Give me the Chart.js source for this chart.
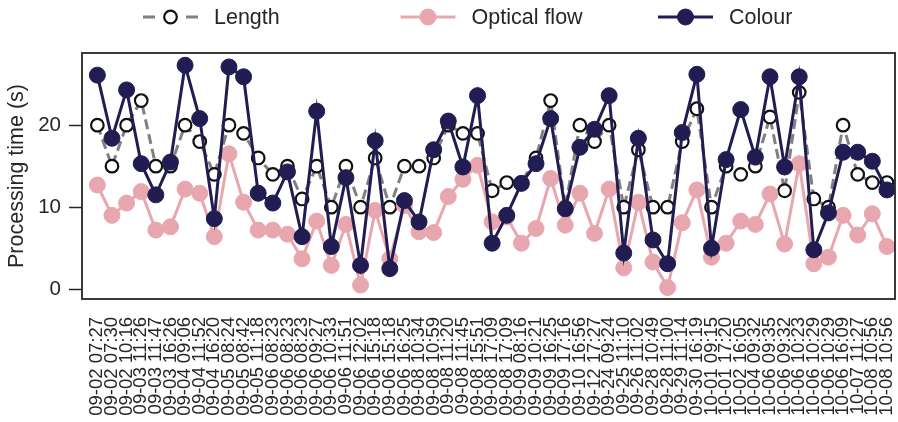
<!DOCTYPE html>
<html>
<head>
<meta charset="utf-8">
<script src="https://cdn.jsdelivr.net/npm/chart.js@4.4.1/dist/chart.umd.min.js"></script>
<style>
  body { margin: 0; background: #ffffff; }
</style>
</head>
<body>
<canvas id="myChart" width="898" height="422"></canvas>
<script>
// DATA
const timeLabels = [
  '09-02 07:27', '09-02 07:30', '09-02 10:16', '09-03 11:26', '09-03 11:47',
  '09-03 16:26', '09-04 09:06', '09-04 11:52', '09-04 16:20', '09-05 08:24',
  '09-05 08:42', '09-05 11:18', '09-06 08:23', '09-06 08:23', '09-06 08:23',
  '09-06 09:27', '09-06 10:33', '09-06 11:51', '09-06 12:02', '09-06 15:18',
  '09-06 15:18', '09-06 16:25', '09-08 10:34', '09-08 10:59', '09-08 11:20',
  '09-08 11:45', '09-08 15:51', '09-08 17:09', '09-08 17:09', '09-09 08:16',
  '09-09 10:21', '09-09 16:25', '09-09 17:16', '09-10 16:56', '09-12 17:27',
  '09-24 09:24', '09-25 11:10', '09-26 11:02', '09-28 10:49', '09-28 11:00',
  '09-29 11:14', '09-30 16:19', '10-01 09:15', '10-01 17:20', '10-02 16:05',
  '10-04 09:32', '10-06 09:35', '10-06 09:32', '10-06 10:23', '10-06 10:29',
  '10-06 10:29', '10-06 16:09', '10-07 11:27', '10-08 10:56', '10-08 10:56'
];
const lengthVals = [
  20, 15, 20, 23, 15, 15, 20, 18, 14, 20, 19, 16, 14, 15, 11, 15, 10, 15, 10, 16,
  10, 15, 15, 16, 20, 19, 19, 12, 13, 13, 16, 23, 10, 20, 18, 20, 10, 17, 10, 10,
  18, 22, 10, 15, 14, 15, 21, 12, 24, 11, 10, 20, 14, 13, 13
];
const opticalVals = [
  12.7, 9.0, 10.5, 11.9, 7.2, 7.6, 12.2, 11.7, 6.4, 16.5, 10.6, 7.2, 7.2, 6.7, 3.7,
  8.3, 2.9, 7.9, 0.5, 9.6, 3.7, 10.2, 7.0, 6.9, 11.3, 13.4, 15.1, 8.2, 8.8, 5.6,
  7.4, 13.5, 7.8, 11.7, 6.8, 12.2, 2.6, 10.6, 3.3, 0.2, 8.1, 12.1, 3.9, 5.6, 8.3,
  7.9, 11.6, 5.5, 15.3, 3.1, 3.9, 9.0, 6.6, 9.2, 5.2
];
const colourVals = [
  26.1, 18.4, 24.3, 15.3, 11.5, 15.5, 27.3, 20.8, 8.6, 27.1, 25.9, 11.7, 10.5, 14.3, 6.4,
  21.7, 5.2, 13.6, 2.9, 18.1, 2.5, 10.8, 8.2, 17.0, 20.5, 14.9, 23.6, 5.6, 9.0, 12.9,
  15.3, 20.8, 9.8, 17.3, 19.5, 23.6, 4.4, 18.4, 6.0, 3.1, 19.1, 26.2, 5.0, 15.8, 21.9,
  16.1, 25.9, 14.9, 25.9, 4.8, 9.3, 16.7, 16.7, 15.6, 12.1
];
const yTicks = [0, 10, 20];
const seriesNames = ['Length', 'Optical flow', 'Colour'];
const yTitle = 'Processing time (s)';

const FONT = '"Liberation Sans", Arial, Helvetica, sans-serif';
const TEXT = '#262626';

function toPoints(vals) {
  return vals.map((v, i) => ({ x: i, y: v }));
}

// legend drawn as line + marker, like the original
const lineLegend = {
  id: 'lineLegend',
  afterDraw(chart, args, opts) {
    const ctx = chart.ctx;
    ctx.save();
    chart.data.datasets.forEach((ds, i) => {
      const x = opts.left + i * opts.step;
      const y = opts.y;
      ctx.lineWidth = ds.borderWidth;
      ctx.strokeStyle = ds.borderColor;
      ctx.setLineDash(opts.dashes[i]);
      ctx.beginPath();
      ctx.moveTo(x, y);
      ctx.lineTo(x + opts.lineLen, y);
      ctx.stroke();
      ctx.setLineDash([]);
      ctx.beginPath();
      ctx.arc(x + opts.lineLen / 2, y, ds.pointRadius, 0, Math.PI * 2);
      ctx.fillStyle = ds.pointBackgroundColor;
      ctx.fill();
      ctx.lineWidth = ds.pointBorderWidth;
      ctx.strokeStyle = ds.pointBorderColor;
      ctx.stroke();
      ctx.fillStyle = TEXT;
      ctx.font = opts.fontSize + 'px ' + FONT;
      ctx.textBaseline = 'middle';
      ctx.fillText(ds.label, x + opts.textGap, y + 1);
    });
    ctx.restore();
  }
};

// box round the plot area
const frame = {
  id: 'frame',
  afterDatasetsDraw(chart) {
    const { ctx, chartArea: a } = chart;
    ctx.save();
    ctx.strokeStyle = TEXT;
    ctx.lineWidth = 1.8;
    ctx.strokeRect(a.left, a.top, a.right - a.left, a.bottom - a.top);
    ctx.restore();
  }
};

const data = {
  datasets: [
    {
      label: seriesNames[0],
      data: toPoints(lengthVals),
      borderColor: '#808080',
      borderWidth: 3,
      borderDash: [10, 5],
      pointRadius: 6.3,
      pointBackgroundColor: '#ffffff',
      pointBorderColor: '#111111',
      pointBorderWidth: 2.2,
      order: 3
    },
    {
      label: seriesNames[1],
      data: toPoints(opticalVals),
      borderColor: '#e8a7af',
      borderWidth: 3,
      pointRadius: 8,
      pointBackgroundColor: '#e8a7af',
      pointBorderColor: '#e8a7af',
      pointBorderWidth: 1,
      order: 2
    },
    {
      label: seriesNames[2],
      data: toPoints(colourVals),
      borderColor: '#211d52',
      borderWidth: 3,
      pointRadius: 8,
      pointBackgroundColor: '#211d52',
      pointBorderColor: '#211d52',
      pointBorderWidth: 1,
      order: 1
    }
  ]
};

const config = {
  type: 'line',
  data: data,
  options: {
    responsive: false,
    animation: false,
    layout: { autoPadding: false, padding: { top: 53, left: 4, right: 3, bottom: 0 } },
    plugins: {
      legend: { display: false },
      tooltip: { enabled: false },
      lineLegend: {
        left: 143, step: 257.5, y: 17, lineLen: 55, textGap: 71, fontSize: 21.5,
        dashes: [[12, 31], [], []]
      }
    },
    scales: {
      x: {
        type: 'linear',
        min: -1.05,
        max: 54.55,
        grid: { display: false },
        border: { display: false },
        afterBuildTicks: (axis) => {
          axis.ticks = timeLabels.map((t, i) => ({ value: i }));
        },
        afterFit: (axis) => {
          axis.height = 123;
          axis.paddingLeft = 0;
          axis.paddingRight = 0;
        },
        ticks: {
          autoSkip: false,
          minRotation: 90,
          maxRotation: 90,
          padding: 10,
          color: TEXT,
          font: { family: FONT, size: 18.5 },
          callback: (v) => timeLabels[v] !== undefined ? timeLabels[v] : ''
        }
      },
      y: {
        min: -1.2,
        max: 28.8,
        grid: { drawOnChartArea: false, drawTicks: true, tickLength: 13, tickWidth: 1.5, color: TEXT },
        border: { display: false },
        afterBuildTicks: (axis) => {
          axis.ticks = yTicks.map((v) => ({ value: v }));
        },
        afterFit: (axis) => {
          axis.width = 78;
        },
        ticks: {
          padding: 8,
          color: TEXT,
          font: { family: FONT, size: 20.5 }
        },
        title: {
          display: true,
          text: yTitle,
          color: TEXT,
          font: { family: FONT, size: 21.5 },
          padding: { top: 0, bottom: 9 }
        }
      }
    }
  },
  plugins: [lineLegend, frame]
};

const myChart = new Chart(document.getElementById('myChart'), config);
</script>
</body>
</html>
